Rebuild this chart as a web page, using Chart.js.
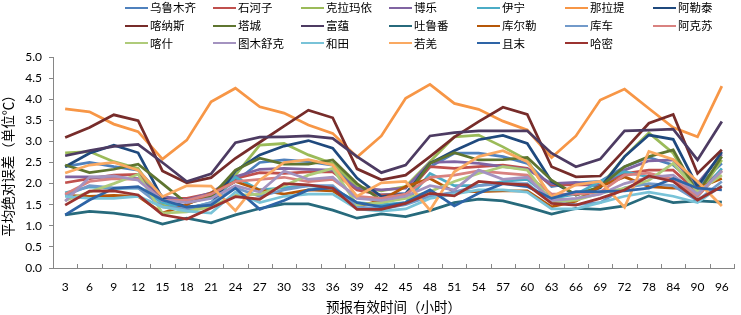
<!DOCTYPE html>
<html>
<head>
<meta charset="utf-8">
<script src="https://cdn.jsdelivr.net/npm/chart.js@4/dist/chart.umd.min.js"></script>
<style>
  html, body { margin: 0; padding: 0; background: #fff; }
  #wrap { position: relative; width: 741px; height: 315px; }
  #legend { position: absolute; left: 0; top: 0; width: 741px; height: 52px;
            font-family: "Noto Sans CJK SC", sans-serif; font-size: 11.5px; color: #000; }
  .li { position: absolute; height: 16px; line-height: 16px; white-space: nowrap; }
  .li span.sw { display: inline-block; width: 23px; height: 0; border-top: 2.5px solid; vertical-align: middle; margin-right: 2px; position: relative; top: -1px; }
</style>
</head>
<body>
<div id="wrap">
  <canvas id="c" width="741" height="315"></canvas>
  <div id="legend"></div>
</div>
<script>
const categories = ["3","6","9","12","15","18","21","24","27","30","33","36","39","42","45","48","51","54","57","60","63","66","69","72","78","84","90","96"];
const yTicks = [0,0.5,1,1.5,2,2.5,3,3.5,4,4.5,5];

const seriesNames = ["乌鲁木齐","石河子","克拉玛依","博乐","伊宁","那拉提","阿勒泰",
                     "喀纳斯","塔城","富蕴","吐鲁番","库尔勒","库车","阿克苏",
                     "喀什","图木舒克","和田","若羌","且末","哈密"];
const seriesColors = ["#4F81BD","#C0504D","#9BBB59","#8064A2","#4BACC6","#F79646","#1F497D",
                      "#772C2A","#5F7530","#4D3B62","#276A7C","#B65708","#729ACA","#D98280",
                      "#AFCB7A","#A493C0","#79C3D8","#FAA961","#2E64A6","#9B3330"];

const urumqi    = [2.40,2.50,2.40,2.32,1.69,1.61,1.69,2.05,2.50,2.56,2.52,2.44,1.89,1.73,1.77,2.40,2.72,2.72,2.64,2.48,1.93,2.02,2.05,2.40,2.62,2.44,1.93,2.48];
const shihezi   = [2.02,2.12,2.20,2.22,1.65,1.65,1.77,2.12,2.26,2.24,2.28,2.28,1.85,1.73,1.73,2.40,2.36,2.40,2.44,2.36,1.97,1.97,1.97,2.24,2.32,2.32,1.81,2.32];
const karamay   = [2.73,2.76,2.52,2.36,1.49,1.37,1.45,2.20,2.91,2.95,2.68,2.48,1.93,1.83,1.93,2.52,3.11,3.15,2.87,2.56,1.65,1.61,1.93,2.64,3.20,2.72,1.73,2.56];
const bole      = [2.16,2.16,2.14,2.12,1.69,1.61,1.78,2.16,2.34,2.36,2.34,2.32,1.89,1.85,1.89,2.50,2.52,2.48,2.40,2.34,2.00,2.03,1.93,2.32,2.54,2.56,2.00,2.70];
const yining    = [1.78,1.92,1.88,1.90,1.55,1.40,1.55,2.15,1.85,1.90,1.95,1.90,1.55,1.50,1.55,2.24,1.95,1.95,2.05,2.10,1.65,1.75,2.05,2.28,2.16,2.10,1.69,2.36];
const nalati    = [3.77,3.70,3.41,3.23,2.58,3.03,3.94,4.26,3.82,3.67,3.39,3.19,2.63,3.13,4.02,4.35,3.90,3.76,3.48,3.27,2.62,3.13,3.98,4.24,3.78,3.33,3.11,4.31];
const altay     = [2.40,2.72,2.91,2.73,1.65,1.45,1.49,2.30,2.68,2.89,3.02,2.84,2.13,1.69,1.75,2.48,2.78,3.04,3.14,2.95,2.05,1.73,1.90,2.64,3.15,3.05,1.93,2.75];
const kanas     = [3.09,3.33,3.63,3.49,2.30,2.02,2.14,2.60,2.98,3.36,3.74,3.56,2.35,2.09,2.20,2.64,3.10,3.47,3.81,3.64,2.40,2.16,2.18,2.80,3.43,3.64,2.24,2.80];
const tacheng   = [2.44,2.26,2.34,2.46,2.00,1.53,1.69,2.32,2.60,2.46,2.46,2.56,2.00,1.61,1.69,2.48,2.73,2.56,2.57,2.62,2.08,1.73,1.93,2.40,2.64,2.80,1.77,2.64];
const fuyun     = [2.66,2.78,2.88,2.93,2.50,2.05,2.23,2.97,3.10,3.11,3.13,3.07,2.64,2.26,2.44,3.13,3.21,3.25,3.25,3.25,2.72,2.40,2.58,3.25,3.27,3.29,2.56,3.47];
const turpan    = [1.26,1.34,1.30,1.22,1.04,1.18,1.07,1.26,1.41,1.52,1.52,1.37,1.18,1.28,1.22,1.36,1.55,1.63,1.59,1.45,1.28,1.41,1.39,1.47,1.71,1.55,1.59,1.56];
const korla     = [1.72,1.70,1.72,1.70,1.30,1.50,1.78,2.05,1.85,1.75,1.85,1.83,1.45,1.61,1.93,2.12,1.81,1.81,1.83,1.83,1.45,1.58,1.93,2.16,1.93,1.89,1.89,2.12];
const kuqa      = [1.72,1.95,1.90,1.90,1.45,1.40,1.55,1.90,1.70,1.85,1.95,1.95,1.45,1.40,1.50,1.70,1.80,1.95,2.00,2.00,1.55,1.50,1.55,1.90,2.00,1.95,1.60,2.05];
const aksu      = [1.75,2.05,2.12,2.10,1.60,1.60,1.75,2.05,2.10,2.15,2.05,2.10,1.70,1.65,1.75,2.15,2.20,2.30,2.25,2.20,1.75,1.75,1.80,2.20,2.25,2.10,1.70,2.30];
const kashgar   = [1.60,1.80,2.00,2.22,1.30,1.33,1.45,1.72,1.75,1.95,2.20,2.36,1.50,1.55,1.65,1.81,2.05,2.24,2.40,2.32,1.57,1.61,1.77,1.89,2.08,2.48,1.81,2.20];
const tumxuk    = [1.58,2.15,2.18,2.08,1.60,1.55,1.65,1.95,1.80,2.30,2.10,2.15,1.65,1.60,1.70,1.95,1.85,2.32,2.10,2.15,1.60,1.65,1.75,2.00,2.15,2.20,1.75,2.30];
const hotan     = [1.70,1.65,1.65,1.70,1.45,1.35,1.30,1.80,1.55,1.70,1.75,1.75,1.40,1.35,1.40,1.65,1.75,1.85,1.85,1.80,1.40,1.40,1.55,1.70,1.80,1.70,1.55,1.95];
const ruoqiang  = [2.25,2.44,2.50,2.32,1.69,1.95,1.94,1.36,2.08,2.50,2.57,2.44,1.70,2.02,2.05,1.37,2.28,2.64,2.78,2.52,1.69,1.97,2.05,1.44,2.76,2.57,2.05,1.47];
const qiemo     = [1.26,1.61,1.89,1.93,1.61,1.44,1.49,1.89,1.39,1.60,1.85,1.90,1.55,1.45,1.55,1.85,1.47,1.77,2.00,1.93,1.65,1.81,1.81,1.83,1.89,2.12,1.89,1.85];
const hami      = [1.49,1.82,1.83,1.73,1.26,1.16,1.42,1.69,1.63,2.00,1.97,1.89,1.39,1.39,1.53,1.77,1.71,2.05,2.00,1.97,1.53,1.49,1.65,1.85,2.18,2.05,1.61,1.93];

const seriesValues = [urumqi, shihezi, karamay, bole, yining, nalati, altay,
                      kanas, tacheng, fuyun, turpan, korla, kuqa, aksu,
                      kashgar, tumxuk, hotan, ruoqiang, qiemo, hami];

const N = seriesNames.length;
const datasets = seriesNames.map((name, i) => ({
  label: name,
  data: seriesValues[i],
  borderColor: seriesColors[i],
  backgroundColor: seriesColors[i],
  borderWidth: 2.75,
  pointRadius: 0,
  pointHoverRadius: 0,
  tension: 0,
  fill: false,
  order: N - i
}));

// HTML legend: 7 columns x 3 rows
const legend = document.getElementById('legend');
seriesNames.forEach((name, i) => {
  const col = i % 7, row = Math.floor(i / 7);
  const d = document.createElement('div');
  d.className = 'li';
  d.style.left = (125 + col * 88) + 'px';
  d.style.top = (-1 + row * 17.8) + 'px';
  d.innerHTML = '<span class="sw" style="border-color:' + seriesColors[i] + '"></span>' + name;
  legend.appendChild(d);
});

const xTickPlugin = {
  id: 'xTicksInside',
  afterDraw(chart) {
    const xs = chart.scales.x;
    const ctx = chart.ctx;
    const n = categories.length;
    const w = (xs.right - xs.left) / n;
    ctx.save();
    ctx.strokeStyle = '#868686';
    ctx.lineWidth = 1;
    ctx.beginPath();
    for (let i = 1; i <= n; i++) {
      const x = Math.round(xs.left + i * w) + 0.5;
      ctx.moveTo(x, xs.top);
      ctx.lineTo(x, xs.top - 4);
    }
    ctx.stroke();
    ctx.restore();
  }
};

const tickFont = { family: "Lato, 'Liberation Sans', sans-serif", size: 12 };
const titleFont = { family: "'Noto Sans CJK SC', sans-serif", size: 13.5 };

new Chart(document.getElementById('c'), {
  type: 'line',
  data: { labels: categories, datasets },
  options: {
    responsive: false,
    animation: false,
    events: [],
    layout: { padding: { top: 57, right: 7, left: 0, bottom: 0 } },
    plugins: { legend: { display: false }, tooltip: { enabled: false } },
    scales: {
      x: {
        offset: true,
        border: { display: true, color: '#868686', width: 1 },
        grid: { display: false, offset: true },
        ticks: { font: tickFont, color: '#000', padding: 4, maxRotation: 0, autoSkip: false },
        title: { display: true, text: '预报有效时间（小时）', font: titleFont, color: '#000', padding: { top: 1, bottom: 0 } },
        afterFit(scale) { scale.height = 47; }
      },
      y: {
        min: 0, max: 5,
        afterBuildTicks(scale) { scale.ticks = yTicks.map(v => ({ value: v })); },
        border: { display: true, color: '#868686', width: 1 },
        grid: { drawOnChartArea: false, drawTicks: true, tickLength: 4, color: '#868686' },
        ticks: { font: tickFont, color: '#000', padding: 7, callback: v => Number(v).toFixed(1) },
        title: { display: true, text: '平均绝对误差（单位℃）', font: titleFont, color: '#000', padding: { top: 0, bottom: 2 } },
        afterFit(scale) { scale.width = 53; }
      }
    }
  },
  plugins: [xTickPlugin]
});
</script>
</body>
</html>
